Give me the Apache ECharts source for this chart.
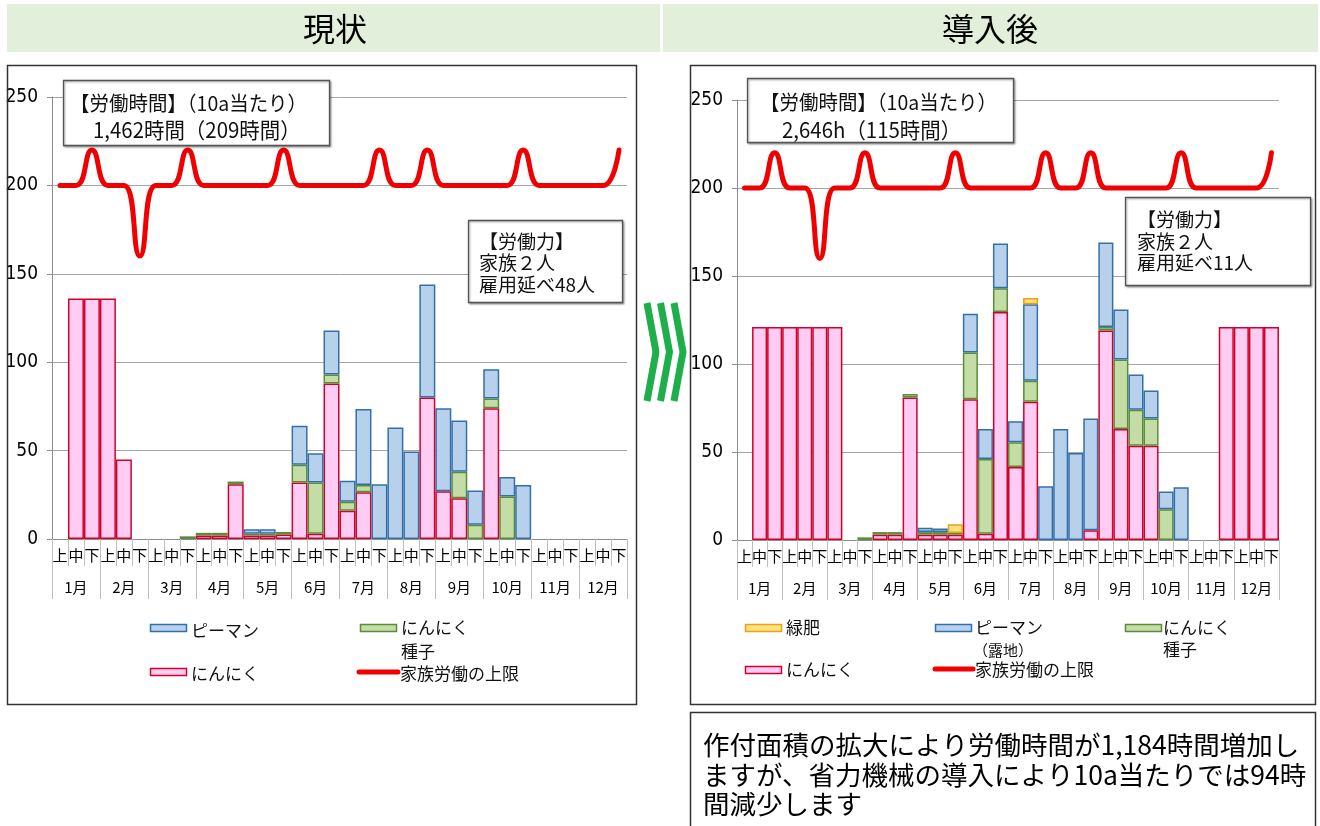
<!DOCTYPE html>
<html><head><meta charset="utf-8">
<script src="https://cdn.jsdelivr.net/npm/echarts@6/dist/echarts.min.js"></script>
<style>html,body{margin:0;padding:0;background:#fff}#c{width:1320px;height:826px}</style>
</head><body><div id="c"></div>
<script>
// ---------- data ----------
const periods = ['上', '中', '下'];
const months = ['1月','2月','3月','4月','5月','6月','7月','8月','9月','10月','11月','12月'];
const periodLabels = months.flatMap(() => periods);
const yTicks = { min: 0, max: 250, step: 50 };

// 現状
const currentGarlic = [0,136,136,136,45,0, 0,0,0, 2,2,31, 2,2,2.5, 32,3,88, 16,26.5,0, 0,0,80, 27,23,0, 74,0,0, 0,0,0, 0,0,0];
const currentSeed   = [0,0,0,0,0,0, 0,0,1.5, 1.5,1.5,1.5, 1,1,1.5, 10,29,5, 5,4,0, 0,0,0, 0,15,8, 5.5,24,0, 0,0,0, 0,0,0];
const currentPepper = [0,0,0,0,0,0, 0,0,0, 0,0,0, 2.5,2.5,0, 22,16.5,25, 12,43,31, 63,49.5,64, 47,29,19.5, 16.5,11,30.5, 0,0,0, 0,0,0];
const currentLimit  = [200,200,220,200,200,160, 200,200,220, 200,200,200, 200,200,220, 200,200,200, 200,200,220, 200,200,220, 200,200,200, 200,200,220, 200,200,200, 200,200,220];

// 導入後
const afterGarlic  = [0,121,121,121,121,121, 121,0,0, 3,3,81, 3,3,3, 80,3.5,129.5, 41.5,78.5,0, 0,0,5.5, 119,63,53.5, 53.5,0,0, 0,0,121, 121,121,121];
const afterSeed    = [0,0,0,0,0,0, 0,0,1.5, 1.5,1.5,2, 1.5,1.5,1, 26.5,42.5,13.5, 14,12,0, 0,0,0, 2,39.5,20.5, 15.5,17.5,0, 0,0,0, 0,0,0];
const afterPepper  = [0,0,0,0,0,0, 0,0,0, 0,0,0, 2.5,2,0, 22,17,25.5, 12,43.5,30.5, 63,49.5,63.5, 48,28.5,20, 16,10,30, 0,0,0, 0,0,0];
const afterManure  = [0,0,0,0,0,0, 0,0,0, 0,0,0, 0,0,5, 0,0,0, 0,3.5,0, 0,0,0, 0,0,0, 0,0,0, 0,0,0, 0,0,0];
const afterLimit   = [200,200,220,200,200,160, 200,200,220, 200,200,200, 200,200,220, 200,200,200, 200,200,220, 200,200,220, 200,200,200, 200,200,220, 200,200,200, 200,200,220];

// ---------- styles ----------
const JP = '"Noto Sans CJK JP", sans-serif';
const NUM = '"Liberation Sans Narrow", "DejaVu Sans Condensed", sans-serif';
const C = {
  pink: '#FFCCF4', pinkB: '#D4002A',
  green: '#C4DCA6', greenB: '#5B8C3A',
  blue: '#B7D1EC', blueB: '#3470A8',
  yellow: '#FFE07A', yellowB: '#E1A41A',
  red: '#F00000', axis: '#8c8c8c', grid: '#a6a6a6', tick: '#bfbfbf'
};
const nz = a => a.map(v => (v ? v : '-'));

function xAxes(g) {
  return [
    { gridIndex: g, type: 'category', data: periodLabels, position: 'bottom', offset: 0,
      axisLine: { lineStyle: { color: C.axis } },
      axisTick: { show: true, interval: 0, length: 27, lineStyle: { color: C.tick } },
      axisLabel: { interval: 0, margin: 9, fontSize: 15, color: '#000', fontFamily: JP } },
    { gridIndex: g, type: 'category', data: months, position: 'bottom', offset: 0,
      axisLine: { show: false },
      axisTick: { show: true, interval: 0, length: 60, lineStyle: { color: C.tick } },
      axisLabel: { interval: 0, margin: 41, fontSize: 15, color: '#000', fontFamily: JP } }
  ];
}
function yAxis(g) {
  return { gridIndex: g, type: 'value', min: yTicks.min, max: yTicks.max, interval: yTicks.step,
    axisLine: { show: true, lineStyle: { color: C.axis } },
    axisTick: { show: true, length: 5, lineStyle: { color: C.axis } },
    axisLabel: { margin: 14, fontSize: 19, color: '#000', fontFamily: NUM },
    splitLine: { lineStyle: { color: C.grid } } };
}
function bar(name, data, g, fill, border, stack) {
  return { name, type: 'bar', stack, xAxisIndex: g * 2, yAxisIndex: g, data: nz(data),
    barCategoryGap: '0%', barGap: '0%',
    itemStyle: { color: fill, borderColor: border, borderWidth: 1.5 }, emphasis: { disabled: true } };
}
function line(name, data, g) {
  return { name, type: 'line', xAxisIndex: g * 2, yAxisIndex: g, data, smooth: 0.5, symbol: 'none', z: 5,
    lineStyle: { color: C.red, width: 5, cap: 'round', join: 'round' } };
}

// ---------- graphics ----------
function txt(x, y, s, size, opts = {}) {
  return Object.assign({ type: 'text', x, y, z: 101,
    style: { text: s, fontSize: size, fontFamily: JP, fill: opts.fill || '#111',
      align: opts.align || 'left', verticalAlign: 'middle' } }, opts.extra || {});
}
function box(x, y, w, h, extra = {}) {
  return { type: 'rect', z: 100, shape: { x, y, width: w, height: h },
    style: Object.assign({ fill: '#fff', stroke: '#555', lineWidth: 1.3,
      shadowBlur: 2, shadowOffsetX: 1, shadowOffsetY: 1, shadowColor: 'rgba(0,0,0,0.35)' }, extra) };
}
function swatch(x, y, fill, stroke) {
  return { type: 'rect', z: 101, shape: { x, y, width: 36, height: 7 }, style: { fill, stroke, lineWidth: 1.5 } };
}
function lineSwatch(x1, x2, y) {
  return { type: 'line', z: 101, shape: { x1, y1: y, x2, y2: y }, style: { stroke: C.red, lineWidth: 5, lineCap: 'round' } };
}
function chevron(x) {
  return { type: 'polyline', z: 101, shape: { points: [[x, 303], [x + 9, 352], [x, 401]] },
    style: { stroke: '#1EAF4B', lineWidth: 7, fill: 'none', lineJoin: 'miter' } };
}
const sx = 0.95;
const graphics = [
  { type: 'rect', z: 0, shape: { x: 7, y: 4, width: 653, height: 48 }, style: { fill: '#E2EFDA' } },
  { type: 'rect', z: 0, shape: { x: 663, y: 4, width: 655, height: 48 }, style: { fill: '#E2EFDA' } },
  txt(335, 29, '現状', 32, { align: 'center', fill: '#000' }),
  txt(990, 29, '導入後', 32, { align: 'center', fill: '#000' }),
  { type: 'rect', z: 1, shape: { x: 7.5, y: 65.5, width: 629, height: 639 }, style: { fill: 'none', stroke: '#333', lineWidth: 1.5 } },
  { type: 'rect', z: 1, shape: { x: 690.5, y: 65.5, width: 625, height: 639 }, style: { fill: 'none', stroke: '#333', lineWidth: 1.5 } },
  chevron(647), chevron(660.5), chevron(674),
  // 現状 annotations
  box(63.5, 80.5, 266, 65),
  txt(70, 103, '【労働時間】（10a当たり）', 20.5, { extra: { scaleX: sx } }),
  txt(93, 130, '1,462時間（209時間）', 21.5, { extra: { scaleX: sx } }),
  box(468.5, 220.5, 154, 82),
  txt(479, 242, '【労働力】', 19),
  txt(479, 263, '家族２人', 19),
  txt(479, 285, '雇用延べ48人', 19),
  // 導入後 annotations
  box(747.5, 78.5, 266, 64),
  txt(760, 102, '【労働時間】（10a当たり）', 20.5, { extra: { scaleX: sx } }),
  txt(782, 130, '2,646h（115時間）', 21.5, { extra: { scaleX: sx } }),
  box(1125.5, 197.5, 185, 88),
  txt(1137, 220, '【労働力】', 19),
  txt(1137, 242, '家族２人', 19),
  txt(1137, 263, '雇用延べ11人', 19),
  // 現状 legend
  swatch(150.5, 624.5, C.blue, C.blueB), txt(191, 631, 'ピーマン', 17),
  swatch(360.5, 624.5, C.green, C.greenB), txt(401, 628, 'にんにく', 17), txt(401, 652, '種子', 17),
  swatch(150.5, 668.5, C.pink, C.pinkB), txt(191, 674, 'にんにく', 17),
  lineSwatch(359, 398, 672), txt(400, 674, '家族労働の上限', 17),
  // 導入後 legend
  swatch(745.5, 624.5, C.yellow, C.yellowB), txt(786, 628, '緑肥', 17),
  swatch(935.5, 624.5, C.blue, C.blueB), txt(975, 628, 'ピーマン', 17), txt(973, 650, '（露地）', 15),
  swatch(1125.5, 624.5, C.green, C.greenB), txt(1163, 628, 'にんにく', 17), txt(1163, 650, '種子', 17),
  swatch(745.5, 666.5, C.pink, C.pinkB), txt(786, 670, 'にんにく', 17),
  lineSwatch(935, 973, 669), txt(975, 670, '家族労働の上限', 17),
  // bottom note
  { type: 'rect', z: 1, shape: { x: 690.5, y: 712.5, width: 625, height: 130 }, style: { fill: '#fff', stroke: '#333', lineWidth: 1.5 } },
  txt(703, 745, '作付面積の拡大により労働時間が1,184時間増加し', 26.5, { fill: '#000' }),
  txt(703, 775, 'ますが、省力機械の導入により10a当たりでは94時', 26.5, { fill: '#000' }),
  txt(703, 804, '間減少します', 26.5, { fill: '#000' })
];

const chart = echarts.init(document.getElementById('c'), null, { renderer: 'canvas' });
chart.setOption({
  animation: false,
  backgroundColor: '#fff',
  grid: [
    { left: 52, top: 97, width: 575, height: 442 },
    { left: 737, top: 100, width: 542, height: 440 }
  ],
  xAxis: [...xAxes(0), ...xAxes(1)],
  yAxis: [yAxis(0), yAxis(1)],
  series: [
    bar('にんにく', currentGarlic, 0, C.pink, C.pinkB, 'cur'),
    bar('にんにく種子', currentSeed, 0, C.green, C.greenB, 'cur'),
    bar('ピーマン', currentPepper, 0, C.blue, C.blueB, 'cur'),
    line('家族労働の上限', currentLimit, 0),
    bar('にんにく', afterGarlic, 1, C.pink, C.pinkB, 'aft'),
    bar('にんにく種子', afterSeed, 1, C.green, C.greenB, 'aft'),
    bar('ピーマン（露地）', afterPepper, 1, C.blue, C.blueB, 'aft'),
    bar('緑肥', afterManure, 1, C.yellow, C.yellowB, 'aft'),
    line('家族労働の上限', afterLimit, 1)
  ],
  graphic: graphics
});
</script></body></html>
